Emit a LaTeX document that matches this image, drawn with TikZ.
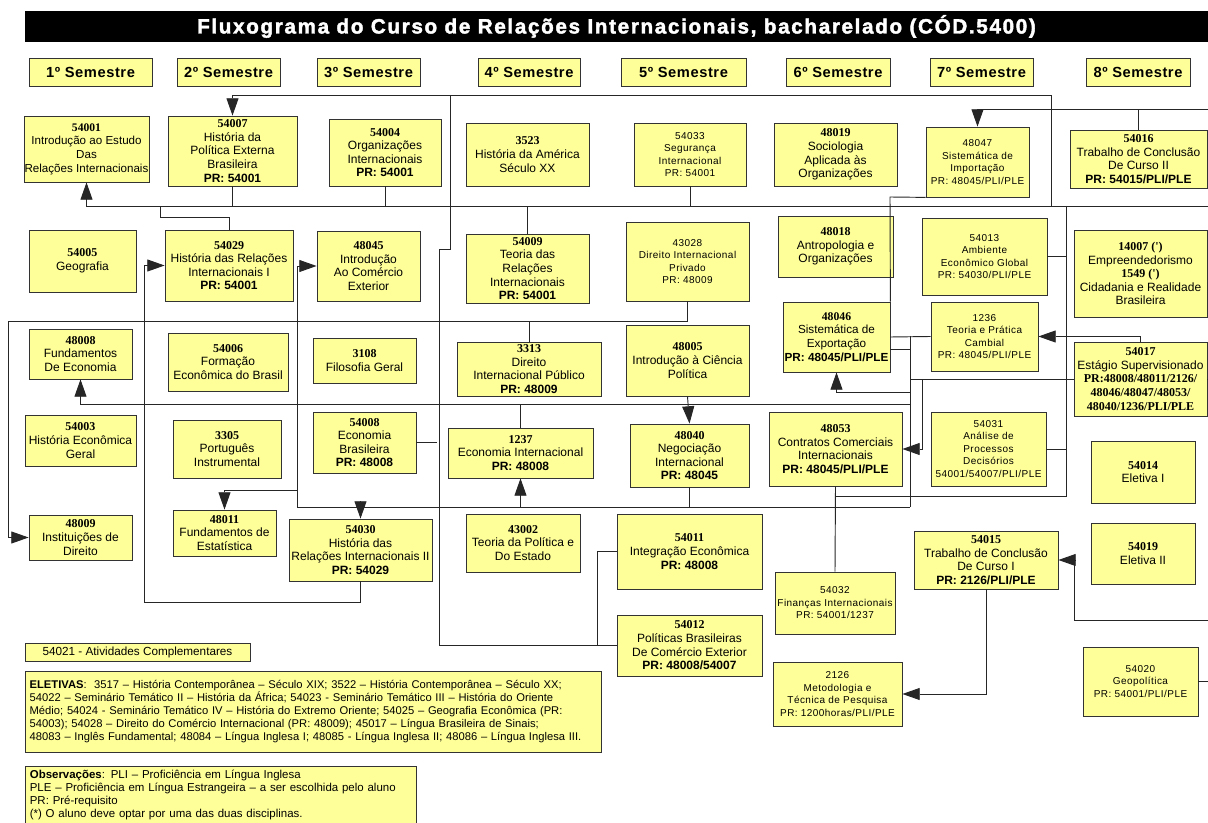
\documentclass[tikz,border=0pt]{standalone}
\usepackage{fontspec}
\setmainfont{Liberation Sans}
\newfontfamily\cf{Liberation Serif}
\newfontfamily\espac[LetterSpace=4.5]{Liberation Sans}
\newfontfamily\semfont[LetterSpace=4]{Liberation Sans}
\newfontfamily\titfont[LetterSpace=8,BoldFeatures={FakeBold=2}]{Liberation Sans}
\usetikzlibrary{arrows.meta}
\definecolor{amarelo}{HTML}{FFFF99}
\newcommand{\cod}[1]{{\cf\bfseries #1}}

\begin{document}
\begin{tikzpicture}[
   x=0.75pt, y=-0.75pt,
   >={Triangle[length=13pt,width=9pt]},
   tam/.style 2 args={minimum width=#1*0.75pt,minimum height=#2*0.75pt},
   disc/.style={draw=black!80,fill=amarelo,line width=0.6pt,align=center,
                inner sep=0.5pt,font=\fontsize{9}{10.2}\selectfont},
   discesp/.style={disc,font=\fontsize{7.5}{9.4}\selectfont\espac},
   sem/.style={disc,minimum height=28*0.75pt,font=\fontsize{11}{13}\selectfont\semfont\bfseries},
   nota/.style={disc,align=left,inner xsep=3.5pt,font=\fontsize{8.4}{9.9}\selectfont},
   liga/.style={draw=black!85,line width=0.7pt},
   seta/.style={liga,->},
   ]
\useasboundingbox (0,0) rectangle (1208,823);
%% titulo
\node[fill=black,text=white,tam={1183}{29},font=\fontsize{15.5}{17}\selectfont\titfont\bfseries]
   (titulo) at (616.5,26.5) {Fluxograma do Curso de Relações Internacionais, bacharelado (CÓD.5400)};
%% semestres
\foreach \n/\x/\w in {1/90.5/123,2/228.5/103,3/368.5/103,4/529/102,5/683.5/125,6/838/104,7/981.5/103,8/1138/104}
   \node[sem,minimum width=\w*0.75pt] (sem\n) at (\x,72) {\n{}º Semestre};
%% linha 1
\node[disc,tam={125}{66},font=\fontsize{8.7}{10.2}\selectfont] (s54001) at (86.5,149) {\cod{54001}\\Introdução ao Estudo\\Das\\Relações Internacionais};
\node[disc,tam={129}{70}] (s54007) at (232.5,151) {\cod{54007}\\História da\\Política Externa\\Brasileira\\\textbf{PR: 54001}};
\node[disc,tam={112}{67}] (s54004) at (385,152.5) {\cod{54004}\\Organizações\\Internacionais\\\textbf{PR: 54001}};
\node[disc,tam={123}{63}] (s3523) at (527.5,154.5) {\cod{3523}\\História da América\\Século XX};
\node[discesp,tam={112}{63}] (s54033) at (690,154.5) {54033\\Segurança\\Internacional\\PR: 54001};
\node[disc,tam={123}{63}] (s48019) at (835.5,154.5) {\cod{48019}\\Sociologia\\Aplicada às\\Organizações};
\node[discesp,tam={103}{70}] (s48047) at (977.5,162) {48047\\Sistemática de\\Importação\\PR: 48045/PLI/PLE};
\node[disc,tam={137}{58}] (s54016) at (1138.5,159) {\cod{54016}\\Trabalho de Conclusão\\De Curso II\\\textbf{PR: 54015/PLI/PLE}};
%% linha 2
\node[disc,tam={107}{62}] (s54005) at (82.5,261) {\cod{54005}\\Geografia};
\node[disc,tam={128}{71}] (s54029) at (229,265.5) {\cod{54029}\\História das Relações\\Internacionais I\\\textbf{PR: 54001}};
\node[disc,tam={103}{70}] (s48045) at (368.5,266) {\cod{48045}\\Introdução\\Ao Comércio\\Exterior};
\node[disc,tam={123}{69}] (s54009) at (527.5,268.5) {\cod{54009}\\Teoria das\\Relações\\Internacionais\\\textbf{PR: 54001}};
\node[discesp,tam={123}{79}] (s43028) at (687.5,261.5) {43028\\Direito Internacional\\Privado\\PR: 48009};
\node[disc,tam={115}{61}] (s48018) at (835.5,246.5) {\cod{48018}\\Antropologia e\\Organizações};
\node[discesp,tam={125}{77}] (s54013) at (984.5,256.5) {54013\\Ambiente\\Econômico Global\\PR: 54030/PLI/PLE};
\node[disc,tam={133}{87}] (s14007) at (1140.5,273.5) {\cod{14007 (')}\\Empreendedorismo\\\cod{1549 (')}\\Cidadania e Realidade\\Brasileira};
%% linha 3
\node[disc,tam={103}{50}] (s48008) at (80.5,354) {\cod{48008}\\Fundamentos\\De Economia};
\node[disc,tam={120}{58}] (s54006) at (228,362) {\cod{54006}\\Formação\\Econômica do Brasil};
\node[disc,tam={103}{45}] (s3108) at (364.5,360.5) {\cod{3108}\\Filosofia Geral};
\node[disc,tam={144}{54}] (s3313) at (529,369) {\cod{3313}\\Direito\\Internacional Público\\\textbf{PR: 48009}};
\node[disc,tam={123}{71}] (s48005) at (687.5,360.5) {\cod{48005}\\Introdução à Ciência\\Política};
\node[disc,tam={107}{70},font=\fontsize{8.8}{10.2}\selectfont] (s48046) at (836.5,337) {\cod{48046}\\Sistemática de\\Exportação\\\textbf{PR: 48045/PLI/PLE}};
\node[discesp,tam={107}{69}] (s1236) at (984.5,336.5) {1236\\Teoria e Prática\\Cambial\\PR: 48045/PLI/PLE};
\node[disc,tam={133}{74}] (s54017) at (1140.5,379) {\cod{54017}\\Estágio Supervisionado\\\cod{PR:48008/48011/2126/}\\\cod{48046/48047/48053/}\\\cod{48040/1236/PLI/PLE}};
%% linha 4
\node[disc,tam={111}{51}] (s54003) at (80.5,440.5) {\cod{54003}\\História Econômica\\Geral};
\node[disc,tam={108}{58}] (s3305) at (227,449) {\cod{3305}\\Português\\Instrumental};
\node[disc,tam={103}{61}] (s54008) at (364.5,442.5) {\cod{54008}\\Economia\\Brasileira\\\textbf{PR: 48008}};
\node[disc,tam={145}{50}] (s1237) at (520.5,453) {\cod{1237}\\Economia Internacional\\\textbf{PR: 48008}};
\node[disc,tam={119}{63}] (s48040) at (689.5,455.5) {\cod{48040}\\Negociação\\Internacional\\\textbf{PR: 48045}};
\node[disc,tam={133}{74}] (s48053) at (835.5,449) {\cod{48053}\\Contratos Comerciais\\Internacionais\\\textbf{PR: 48045/PLI/PLE}};
\node[discesp,tam={115}{74}] (s54031) at (988.5,449) {54031\\Análise de\\Processos\\Decisórios\\54001/54007/PLI/PLE};
\node[disc,tam={104}{62}] (s54014) at (1143,472) {\cod{54014}\\Eletiva I};
%% linha 5
\node[disc,tam={103}{45}] (s48009) at (80.5,537.5) {\cod{48009}\\Instituições de\\Direito};
\node[disc,tam={103}{46}] (s48011) at (224.5,533) {\cod{48011}\\Fundamentos de\\Estatística};
\node[disc,tam={143}{62}] (s54030) at (360.5,550) {\cod{54030}\\História das\\Relações Internacionais II\\\textbf{PR: 54029}};
\node[disc,tam={114}{58}] (s43002) at (523,543) {\cod{43002}\\Teoria da Política e\\Do Estado};
\node[disc,tam={145}{75}] (s54011) at (689.5,551.5) {\cod{54011}\\Integração Econômica\\\textbf{PR: 48008}};
\node[disc,tam={144}{58}] (s54015) at (986,560) {\cod{54015}\\Trabalho de Conclusão\\De Curso I\\\textbf{PR: 2126/PLI/PLE}};
\node[disc,tam={104}{61}] (s54019) at (1143,553.5) {\cod{54019}\\Eletiva II};
\node[discesp,tam={120}{62}] (s54032) at (835,603) {54032\\Finanças Internacionais\\PR: 54001/1237};
\node[disc,tam={145}{61}] (s54012) at (689.5,645.5) {\cod{54012}\\Políticas Brasileiras\\De Comércio Exterior\\\textbf{PR: 48008/54007}};
\node[discesp,tam={129}{64}] (s2126) at (837.5,694) {2126\\Metodologia e\\Técnica de Pesquisa\\PR: 1200horas/PLI/PLE};
\node[discesp,tam={115}{69}] (s54020) at (1140.5,681.5) {54020\\Geopolítica\\PR: 54001/PLI/PLE};
%% notas
\node[disc,tam={225}{18},font=\fontsize{8.8}{10}\selectfont] (ativ) at (137.5,652) {54021 - Atividades Complementares};
\node[nota,tam={576}{81},text width=425pt] (eletivas) at (313,711.5) {%
   \textbf{ELETIVAS}:\ \ 3517 – História Contemporânea – Século XIX; 3522 – História Contemporânea – Século XX;\\
   54022 – Seminário Temático II – História da África; 54023 - Seminário Temático III – História do Oriente\\
   Médio; 54024 - Seminário Temático IV – História do Extremo Oriente; 54025 – Geografia Econômica (PR:\\
   54003); 54028 – Direito do Comércio Internacional (PR: 48009); 45017 – Língua Brasileira de Sinais;\\
   48083 – Inglês Fundamental; 48084 – Língua Inglesa I; 48085 - Língua Inglesa II; 48086 – Língua Inglesa III.};
\node[nota,tam={391}{58},text width=286pt,font=\fontsize{8.6}{9.9}\selectfont] (obs) at (220.5,795) {%
   \textbf{Observações}: PLI – Proficiência em Língua Inglesa\\
   PLE – Proficiência em Língua Estrangeira – a ser escolhida pelo aluno\\
   PR: Pré-requisito\\
   (*) O aluno deve optar por uma das duas disciplinas.};
%% pontas livres na borda direita
\coordinate (fimA) at (1208,206);
\coordinate (fimB) at (1208,109);
\coordinate (fimC) at (1208,379);
\coordinate (fimD) at (1208,620);
\coordinate (fimE) at (1208,681.5);
%% 54001
\draw[seta] (fimA) -- (s54001.south |- fimA) -- (s54001.south);
\foreach \s in {s54007,s54004,s54033} \draw[liga] (\s.south) -- (\s.south |- fimA);
\draw[liga] (s54009.north) -- (s54009.north |- fimA);
\draw[liga] (s54029.north) -- ++(0,-12) -| (160,206);
%% 54007
\draw[seta] (1051,206) -- (1051,95) -- (s54007.north |- 0,95) -- (s54007.north);
\draw[liga] (450,95) -- (450,249) -- (439,249) -- (439,645.5) -- (s54012.west);
\draw[liga] (s54011.west) -- (597,551.5) -- (597,645.5);
\draw[liga] (s54008.east) -- (437,442.5);
%% 48009
\draw[seta] (s43028.south) -- (s43028.south |- 0,321) -- (8,321) -- (8,537.5) -- (s48009.west);
\draw[liga] (s3313.north) -- (s3313.north |- 0,321);
%% 48008
\draw[seta] (911,404) -- (s48008.south |- 0,404) -- (s48008.south);
\draw[liga] (s1237.north) -- (s1237.north |- 0,404);
\draw[seta] (s48005.south) -- (s48040.north);
%% 48045
\draw[seta] (910,507) -- (297,507) -- (297,266) -- (s48045.west);
\draw[seta] (297,490) -- (s48011.north |- 0,490) -- (s48011.north);
\draw[seta] (s54030.north |- 0,507) -- (s54030.north);
\draw[seta] (s1237.south |- 0,507) -- (s1237.south);
\draw[liga] (s48040.south) -- (s48040.south |- 0,507);
\draw[liga] (910,336) -- (910,507);
\draw[liga] (s48046.east) -- (s1236.west);
\draw[liga] (s48046.east |- 0,349) -- (910,349);
\draw[seta] (910,392) -- (s48046.south |- 0,392) -- (s48046.south);
%% 54017
\draw[seta] (s54017.north) |- (s1236.east);
\draw[liga] (s54017.west) -- (910,379);
\draw[liga] (s54017.east) -- (fimC);
\draw[seta] (922,379) -- (922,449) -- (s48053.east);
%% 54031, 54013, 54032
\draw[liga] (1066,206) -- (1066,496) -- (836,496);
\draw[liga] (s54031.east) -- (1066,449);
\draw[liga] (s54013.east) -- (1066,256.5);
\draw[liga] (s48053.south) -- (s54032.north);
%% 48047
\draw[liga] (s48047.south west) -- (890,197) -- (s48046.north east);
\draw[seta] (fimB) -- (s48047.north |- fimB) -- (s48047.north);
\draw[liga] (s54016.north) -- (s54016.north |- fimB);
%% 54015
\draw[seta] (fimD) -- (1074,620) -- (1074,560) -- (s54015.east);
\draw[seta] (s54015.south) |- (s2126.east);
\draw[liga] (s54020.east) -- (fimE);
%% 54029
\draw[seta] (s54030.south) |- (144,602) -- (144,265.5) -- (s54029.west);
\end{tikzpicture}
\end{document}
